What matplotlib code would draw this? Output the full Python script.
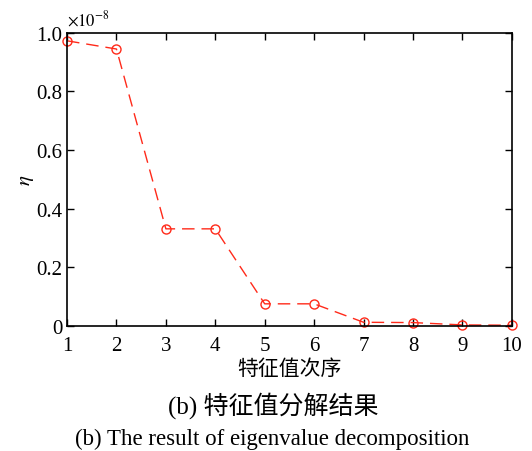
import matplotlib
matplotlib.use('Agg')
from matplotlib import pyplot as plt

plt.rcParams['font.family'] = ['Liberation Serif', 'Noto Sans CJK SC']
plt.rcParams['mathtext.fontset'] = 'stix'

order = [1, 2, 3, 4, 5, 6, 7, 8, 9, 10]
# eigenvalue ratio, in units of 1e-8
eta = [0.973, 0.945, 0.331, 0.331, 0.075, 0.075, 0.012, 0.011, 0.003, 0.002]
yticks = [0, 0.2, 0.4, 0.6, 0.8, 1.0]
ytick_labels = ['0', '0.2', '0.4', '0.6', '0.8', '1.0']

fig = plt.figure(figsize=(5.32, 4.52), dpi=100)
ax = fig.add_axes([0.126, 0.277, 0.836, 0.648])

ax.plot(order, eta, color='#ff2a1a', linestyle=(0, (9, 5)), linewidth=1.0,
        marker='o', markersize=6.5, markerfacecolor='none', markeredgecolor='#ff2a1a',
        markeredgewidth=1.0, clip_on=False)

ax.set_xlim(1, 10)
ax.set_ylim(0, 1.0)
ax.set_xticks(order)
ax.set_yticks(yticks)
ax.set_yticklabels(ytick_labels)
ax.tick_params(direction='in', top=True, right=True, labelsize=15, length=5, width=1)
ax.tick_params(axis='x', pad=7)
for s in ax.spines.values():
    s.set_linewidth(1.2)

ax.text(0.0, 1.015, r'$\times10^{-8}$', transform=ax.transAxes, fontsize=12, ha='left', va='bottom')
ax.set_ylabel(r'$\eta$', fontsize=15, labelpad=0)
ax.set_xlabel('特征值次序', fontsize=15, family=['Noto Sans CJK SC'], labelpad=2)

fig.text(0.316, 0.102, '(b) 特征值分解结果', ha='left', va='center', fontsize=18,
         family=['Liberation Serif', 'Noto Sans CJK SC'])
fig.text(0.512, 0.027, '(b) The result of eigenvalue decomposition', ha='center', va='center',
         fontsize=16.5, family=['Liberation Serif', 'Noto Sans CJK SC'])

fig.savefig('out.png', dpi=100)
